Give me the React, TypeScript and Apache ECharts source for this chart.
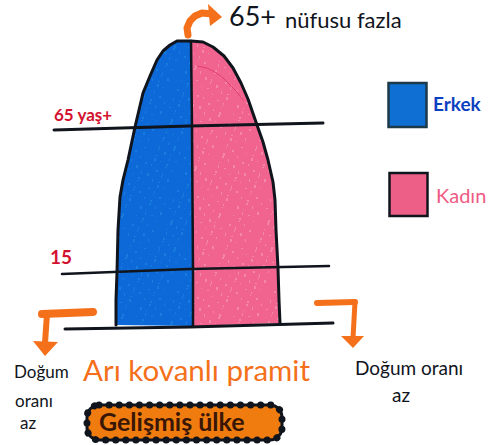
import React, { useEffect, useRef } from "react";
import * as echarts from "echarts";

type P = [number, number];

// Values (horizontal position, height down the page)
const maleEdge: P[] = [[191, 41], [183, 41], [177, 41], [170, 45], [163, 51], [157, 60], [150, 76], [143, 93], [139, 110], [135, 127], [128, 160], [123, 180], [120, 197], [118, 230], [117, 272], [116, 300], [116, 325]];
const femaleEdge: P[] = [[191, 41], [203, 42], [213, 47], [224, 56], [233, 68], [241, 83], [248, 99], [257, 125], [263, 142], [268, 160], [273, 182], [275, 200], [276, 230], [278, 268], [279, 300], [280, 323]];
const centre: P[] = [[191, 41], [192, 127], [193, 270], [193, 326]];
const age65: P[] = [[54, 130], [190, 126], [323, 123]];
const age15: P[] = [[62, 274], [190, 269], [329, 266]];
const age0: P[] = [[65, 329], [190, 327], [333, 323]];
const crayonStreak: P[] = [[197, 66], [207, 68], [215, 72], [223, 78], [230, 85], [237, 92], [243, 100]];
const arrowTop: P[] = [[188, 35], [187, 28], [190, 21], [195, 16], [202, 13], [212, 14]];
const arrowTopHead: P[] = [[208, 4], [222, 17], [210, 26]];
const arrowLeftBar: P[] = [[93, 312], [42, 314]];
const arrowLeft: P[] = [[47, 314], [45, 343]];
const arrowLeftHead: P[] = [[33, 341], [58, 342], [45, 356]];
const arrowRightBar: P[] = [[317, 303], [355, 302]];
const arrowRight: P[] = [[355, 302], [353, 338]];
const arrowRightHead: P[] = [[341, 336], [364, 336], [353, 348]];
const legendLabels = ["Erkek", "Kadın"];
const ageLabels = ["65 yaş+", "15"];
const topNote = ["65+", "nüfusu fazla"];
const birthLeft = ["Doğum", "oranı", "az"];
const birthRight = ["Doğum oranı", "az"];
const typeTitle = "Arı kovanlı pramit";
const countryTag = "Gelişmiş ülke";

const BLACK = "#10141c";
const ORANGE = "#f4701a";
const BLUE = "#0d69d8";
const PINK = "#f0648f";
const RED = "#d3122f";
const HAND = "Lato, 'Open Sans', sans-serif";

const polygon = (pts: P[], fill: any) => ({
  type: "custom",
  silent: true,
  clip: false,
  data: [pts[0]],
  renderItem: (_: any, api: any) => ({
    type: "polygon",
    shape: { points: pts.map((p) => api.coord(p)) },
    style: { fill },
  }),
});

const line = (pts: P[], color: string, width: number) => ({
  type: "line",
  data: pts,
  symbol: "none",
  silent: true,
  clip: false,
  lineStyle: { color, width, cap: "round", join: "round" },
});

const txt = (text: string, x: number, y: number, size: number, fill: string, extra: any = {}) => ({
  type: "text",
  x,
  y,
  z: 20,
  style: { text, fontSize: size, fill, fontFamily: HAND, ...extra },
});

// faint crayon grain drawn on a small tile, repeated inside the filled halves
const grain = (color: string) => {
  const c = document.createElement("canvas");
  c.width = 97;
  c.height = 101;
  const g = c.getContext("2d")!;
  g.fillStyle = color;
  for (let i = 0; i < 170; i++) {
    g.fillRect((i * 41) % 97, (i * 59 + (i % 7) * 17) % 101, 1 + (i % 2), 1 + (i % 3));
  }
  return c;
};

export default function App() {
  const ref = useRef<HTMLDivElement>(null);
  useEffect(() => {
    document.body.style.margin = "0";
    document.body.style.background = "#fff";
    const chart = echarts.init(ref.current!, null, { renderer: "svg" });
    const maleShape = [...maleEdge, ...[...centre].reverse()];
    const femaleShape = [...femaleEdge, ...[...centre].reverse()];
    chart.setOption({
      animation: false,
      backgroundColor: "#ffffff",
      grid: { left: 0, right: 0, top: 0, bottom: 0 },
      xAxis: { type: "value", min: 0, max: 494, show: false },
      yAxis: { type: "value", min: 0, max: 445, inverse: true, show: false },
      series: [
        polygon(maleShape, BLUE),
        polygon(femaleShape, PINK),
        polygon(maleShape, { image: grain("rgba(60,190,235,0.22)"), repeat: "repeat" }),
        polygon(femaleShape, { image: grain("rgba(255,225,235,0.28)"), repeat: "repeat" }),
        line(crayonStreak, "#e2406c", 1),
        line([...[...maleEdge].reverse(), ...femaleEdge.slice(1)], BLACK, 3),
        line(centre, BLACK, 2.5),
        line(age65, BLACK, 3),
        line(age15, BLACK, 2.5),
        line(age0, BLACK, 3),
        line(arrowTop, ORANGE, 7),
        polygon(arrowTopHead, ORANGE),
        line(arrowLeftBar, ORANGE, 8),
        line(arrowLeft, ORANGE, 6),
        polygon(arrowLeftHead, ORANGE),
        line(arrowRightBar, ORANGE, 6),
        line(arrowRight, ORANGE, 5),
        polygon(arrowRightHead, ORANGE),
      ],
      graphic: [
        { type: "rect", z: 10, shape: { x: 388.5, y: 83, width: 38, height: 44 }, style: { fill: "#0f6fd2", stroke: "#1c3a4a", lineWidth: 2.5 } },
        { type: "rect", z: 10, shape: { x: 389.5, y: 173, width: 38, height: 43 }, style: { fill: "#ee5f88", stroke: BLACK, lineWidth: 2.5 } },
        txt(legendLabels[0], 433, 94, 19, "#0a3fc0", { fontWeight: "bold" }),
        txt(legendLabels[1], 436, 185, 20, "#ef5a84"),
        txt(ageLabels[0], 54, 106, 17, RED, { fontWeight: "bold" }),
        txt(ageLabels[1], 50, 247, 19, RED, { fontWeight: "bold" }),
        txt(topNote[0], 229, 2, 27, BLACK),
        txt(topNote[1], 285, 8, 22, BLACK),
        txt(birthLeft[0], 14, 363, 17, BLACK),
        txt(birthLeft[1], 15, 392, 17, BLACK),
        txt(birthLeft[2], 20, 414, 17, BLACK),
        txt(birthRight[0], 355, 358, 19, BLACK),
        txt(birthRight[1], 392, 385, 19, BLACK),
        txt(typeTitle, 83, 354, 29.5, ORANGE),
        { type: "rect", z: 10, shape: { x: 87, y: 405, width: 195, height: 35, r: 12 }, style: { fill: "#f07c10", stroke: BLACK, lineWidth: 3 } },
        { type: "rect", z: 11, shape: { x: 87, y: 405, width: 195, height: 35, r: 12 }, style: { fill: "none", stroke: BLACK, lineWidth: 7, lineCap: "round", lineDash: [0.1, 10] } },
        txt(countryTag, 99, 408, 25, "#3a1605", { fontWeight: "bold" }),
      ],
    });
    return () => chart.dispose();
  }, []);
  return <div ref={ref} style={{ width: 494, height: 445 }} />;
}
